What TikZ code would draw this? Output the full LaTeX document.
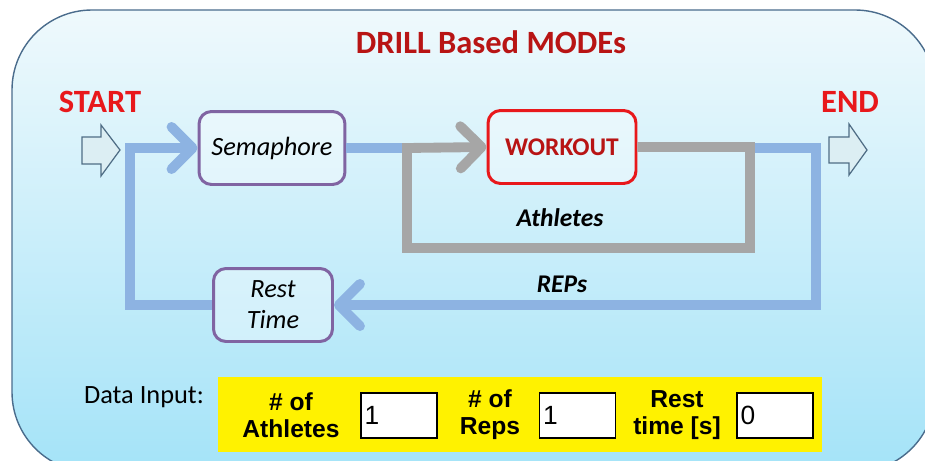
\documentclass[tikz,border=0pt]{standalone}
\usepackage{fontspec}
\setmainfont{Carlito}
\newfontfamily\arialfont{Liberation Sans}
\usetikzlibrary{arrows.meta}

\definecolor{pipeblue}{HTML}{8DB3E2}
\definecolor{pipegray}{HTML}{A6A6A6}
\definecolor{boxpurple}{HTML}{8064A2}
\definecolor{startred}{HTML}{E8181B}
\definecolor{titlered}{HTML}{B81414}
\definecolor{paneltop}{HTML}{EFF9FC}
\definecolor{panelbottom}{HTML}{A4E3F8}
\definecolor{panelline}{HTML}{4A6C8C}
\definecolor{hollowfill}{HTML}{DCEEF3}
\definecolor{hollowline}{HTML}{4F6D85}

\tikzset{
  pipe/.style={line width=5.6pt, line join=miter},
  pipetip/.style={-{Straight Barb[length=12pt,width=24pt,round]}},
  modebox/.style={draw=boxpurple, line width=1.7pt, rounded corners=0.25cm,
    fill=white, fill opacity=0.35, text opacity=1, align=center,
    font=\fontsize{15}{17.5}\selectfont\itshape},
  hollow/.style={draw=hollowline, fill=hollowfill, line width=0.7pt},
  inlabel/.style={align=center, font=\arialfont\bfseries\fontsize{14}{15.5}\selectfont},
  inbox/.style={draw=black, fill=white, line width=1.1pt, inner sep=2pt,
    text width=1.52cm-4pt, minimum height=0.9cm, align=left,
    font=\arialfont\fontsize{15}{16}\selectfont}
}

\begin{document}
\begin{tikzpicture}[x=0.02cm,y=-0.02cm]
\path[use as bounding box, clip] (0,0) rectangle (925,460);
% panel
\draw[panelline, line width=0.8pt, rounded corners=1.6cm, top color=paneltop,
  bottom color=panelbottom] (12,10) rectangle (935,472);

\node[titlered, font=\bfseries\fontsize{18.5}{20}\selectfont] (title) at (491,42) {DRILL Based MODEs};
\node[startred, font=\bfseries\fontsize{18.5}{20}\selectfont] (start) at (100,102) {START};
\node[startred, font=\bfseries\fontsize{18.5}{20}\selectfont] (end) at (850,102) {END};

% start / end arrows
\draw[hollow] (82,137) -- (101,137) -- (101,125) -- (120,150) -- (101,176) -- (101,164) -- (82,164) -- cycle;
\draw[hollow] (829,137) -- (849,137) -- (849,124) -- (867,150) -- (849,175) -- (849,163) -- (829,163) -- cycle;

% boxes
\node[modebox, minimum width=2.92cm, minimum height=1.46cm] (sema) at (272,148) {Semaphore};
\node[modebox, draw=startred, text=titlered, minimum width=2.96cm, minimum height=1.46cm,
  font=\bfseries\fontsize{14.5}{17}\selectfont] (work) at (562,147) {WORKOUT};
\node[modebox, minimum width=2.38cm, minimum height=1.46cm] (rest) at (273,305) {Rest\\Time};

\coordinate (lt) at (130,148);
\coordinate (gl) at (407,148);
\coordinate (gr) at (750,148);
\coordinate (gb) at (407,248);
\coordinate (rt) at (816,148);

% blue loop
\draw[pipe, pipeblue] (sema.east) -- (gl);
\draw[pipe, pipeblue, pipetip] (gr) -- (rt) |- (rest.east);
\draw[pipe, pipeblue, pipetip] (rest.west) -| (lt) -- (sema.west);
% gray loop
\draw[pipe, pipegray, pipetip] (work.east) -| (gr |- gb) -- (gb) -- (gl) -- (work.west);

\node[font=\bfseries\itshape\fontsize{14.5}{17}\selectfont] (athl) at (560,218) {Athletes};
\node[font=\bfseries\itshape\fontsize{14.5}{17}\selectfont] (reps) at (562,284) {REPs};

% data input
\node[font=\fontsize{15}{17}\selectfont] (data) at (144,397) {Data Input:};
\node[fill=yellow, minimum width=12.08cm, minimum height=1.5cm] (panel) at (520,414.5) {};
\node[inlabel] (nathl) at (291,415) {\# of\\Athletes};
\node[inbox] (vathl) at (399,415.5) {1};
\node[inlabel] (nreps) at (490,415) {\# of\\Reps};
\node[inbox] (vreps) at (577.5,415.5) {1};
\node[inlabel] (nrest) at (677,415) {Rest\\time [s]};
\node[inbox] (vrest) at (775,415.5) {0};
\end{tikzpicture}
\end{document}
